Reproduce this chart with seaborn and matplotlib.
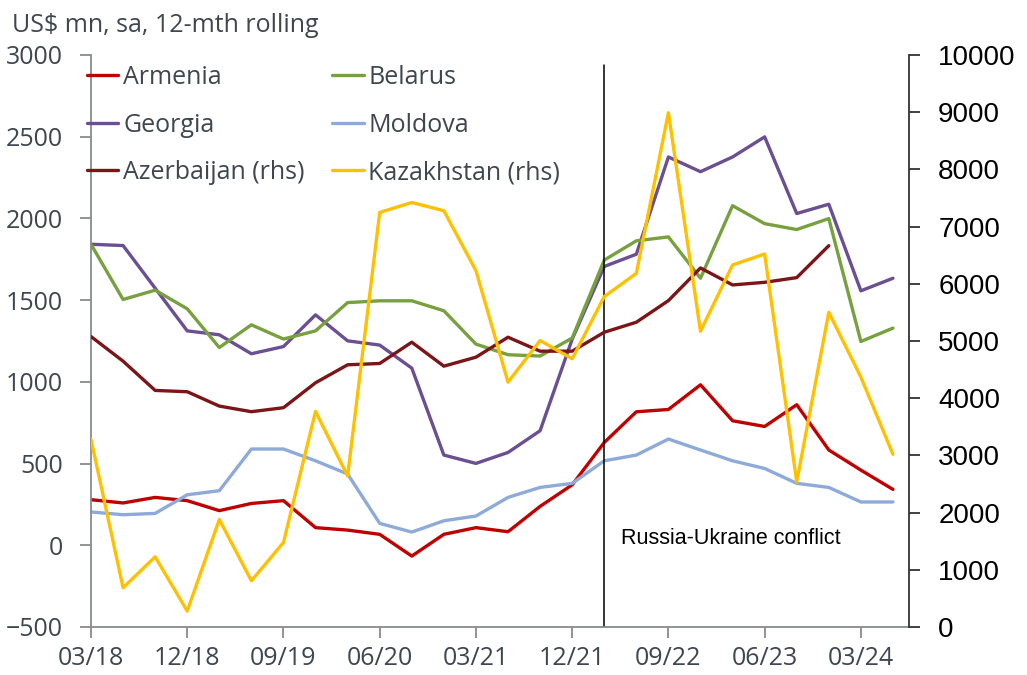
#!/usr/bin/env python3
import numpy as np
import pandas as pd
import seaborn as sns
from matplotlib import pyplot as plt

quarters = ["03/18", "06/18", "09/18", "12/18", "03/19", "06/19", "09/19", "12/19",
            "03/20", "06/20", "09/20", "12/20", "03/21", "06/21", "09/21", "12/21",
            "03/22", "06/22", "09/22", "12/22", "03/23", "06/23", "09/23", "12/23",
            "03/24", "06/24"]

# left axis series (US$ mn)
armenia = [279, 259, 293, 273, 212, 256, 273, 108, 93, 67, -66, 67, 108, 83, 238, 370,
           629, 817, 831, 982, 762, 727, 860, 583, 460, 342]
belarus = [1842, 1504, 1561, 1447, 1210, 1349, 1262, 1312, 1485, 1496, 1496, 1435, 1231,
           1166, 1158, 1268, 1745, 1863, 1887, 1634, 2078, 1968, 1932, 1999, 1247, 1329]
georgia = [1842, 1834, 1573, 1312, 1288, 1172, 1216, 1410, 1251, 1225, 1084, 552, 501,
           568, 701, 1261, 1706, 1781, 2376, 2286, 2376, 2499, 2030, 2087, 1557, 1634]
moldova = [204, 187, 195, 309, 334, 589, 589, 517, 436, 134, 81, 150, 179, 293, 354, 379,
           517, 552, 650, 583, 517, 470, 379, 354, 265, 265]
# right axis series
azerbaijan = [5078, 4647, 4136, 4113, 3862, 3764, 3834, 4270, 4584, 4607, 4979, 4560,
              4717, 5066, 4822, 4822, 5153, 5328, 5706, 6277, 5980, 6026, 6108, 6666]
kazakhstan = [3281, 686, 1227, 279, 1879, 808, 1478, 3769, 2640, 7247, 7422, 7277, 6230,
              4281, 5008, 4689, 5776, 6183, 8992, 5170, 6329, 6521, 2536, 5502, 4368, 3019]

conflict_quarter = "03/22"
conflict_label = "Russia-Ukraine conflict"

GREY = "#3f4650"


def main():
    sns.set_style("white")
    plt.rcParams['font.family'] = ['Open Sans', 'DejaVu Sans']

    df = pd.DataFrame({"q": np.arange(len(quarters)), "Armenia": armenia,
                       "Belarus": belarus, "Georgia": georgia, "Moldova": moldova,
                       "Kazakhstan": kazakhstan})
    df["Azerbaijan"] = pd.Series(azerbaijan, dtype=float)

    fig = plt.figure(figsize=(10.27, 6.75), dpi=100)
    ax = fig.add_axes([91 / 1027, 1 - 627 / 675, (909 - 91) / 1027, (627 - 55) / 675])
    ax2 = ax.twinx()

    lw = 2.4
    sns.lineplot(data=df, x="q", y="Armenia", ax=ax, color="#c00000", lw=lw, label="Armenia", legend=False)
    sns.lineplot(data=df, x="q", y="Georgia", ax=ax, color="#6a4f92", lw=lw, label="Georgia", legend=False)
    sns.lineplot(data=df, x="q", y="Belarus", ax=ax, color="#77a03f", lw=lw, label="Belarus", legend=False)
    sns.lineplot(data=df, x="q", y="Moldova", ax=ax, color="#8eaad8", lw=lw, label="Moldova", legend=False)
    sns.lineplot(data=df, x="q", y="Azerbaijan", ax=ax2, color="#7b1518", lw=lw,
                 label="Azerbaijan (rhs)", legend=False)
    sns.lineplot(data=df, x="q", y="Kazakhstan", ax=ax2, color="#ffc000", lw=lw,
                 label="Kazakhstan (rhs)", legend=False)

    ax.set_xlim(0, 25.5)
    ax.set_ylim(-500, 3000)
    ax.set_yticks(range(-500, 3001, 500))
    ax2.set_ylim(0, 10000)
    ax2.set_yticks(range(0, 10001, 1000))
    ticks = list(range(0, len(quarters), 3))
    ax.set_xticks(ticks, [quarters[i] for i in ticks])
    ax.set_xlabel("")
    ax.set_ylabel("")
    ax2.set_ylabel("")

    # conflict marker
    cx = quarters.index(conflict_quarter)
    ax.plot([cx, cx], [-500, 2940], color="black", lw=1.1)
    ax.text(cx + 0.52, 40, conflict_label, fontsize=15.5, family=['Liberation Sans'],
            va="center", ha="left", color="black")

    for a in (ax, ax2):
        a.spines['top'].set_visible(False)
        a.grid(False)
    ax.spines['right'].set_visible(False)
    ax2.spines['left'].set_visible(False)
    ax2.spines['bottom'].set_visible(False)
    ax.spines['left'].set_color("#858b90")
    ax.spines['bottom'].set_color("#858b90")
    ax2.spines['right'].set_color("#333333")
    for s in ('left', 'bottom'):
        ax.spines[s].set_linewidth(1.3)
    ax2.spines['right'].set_linewidth(1.3)

    ax.tick_params(axis='y', which='both', left=True, length=8, width=1.3, color="#858b90",
                   labelsize=18, labelcolor=GREY, pad=12)
    ax.tick_params(axis='x', which='both', bottom=True, length=8, width=1.3, color="#858b90",
                   labelsize=18, labelcolor=GREY, pad=6)
    ax2.tick_params(axis='y', right=True, length=8, width=1.3, color="#333333",
                    labelsize=20, labelcolor="black", pad=13)
    for lab in ax2.get_yticklabels():
        lab.set_family(['Liberation Sans'])

    fig.text(12 / 1027, 1 - 25 / 675, "US$ mn, sa, 12-mth rolling", fontsize=18,
             color=GREY, va="center", ha="left")

    h1, l1 = ax.get_legend_handles_labels()
    h2, l2 = ax2.get_legend_handles_labels()
    hd = dict(zip(l1 + l2, h1 + h2))
    order = ["Armenia", "Georgia", "Azerbaijan (rhs)", "Belarus", "Moldova", "Kazakhstan (rhs)"]
    leg = ax2.legend([hd[k] for k in order], order, ncol=2, frameon=False, loc="upper left",
                     bbox_to_anchor=(87 / 1027, 1 - 65 / 675), bbox_transform=fig.transFigure,
                     fontsize=18, handlelength=1.25, handletextpad=0.2, columnspacing=1.1,
                     labelspacing=0.9, borderpad=0, borderaxespad=0)
    for t in leg.get_texts():
        t.set_color(GREY)

    plt.savefig("out.png", dpi=100)


if __name__ == '__main__':
    main()
